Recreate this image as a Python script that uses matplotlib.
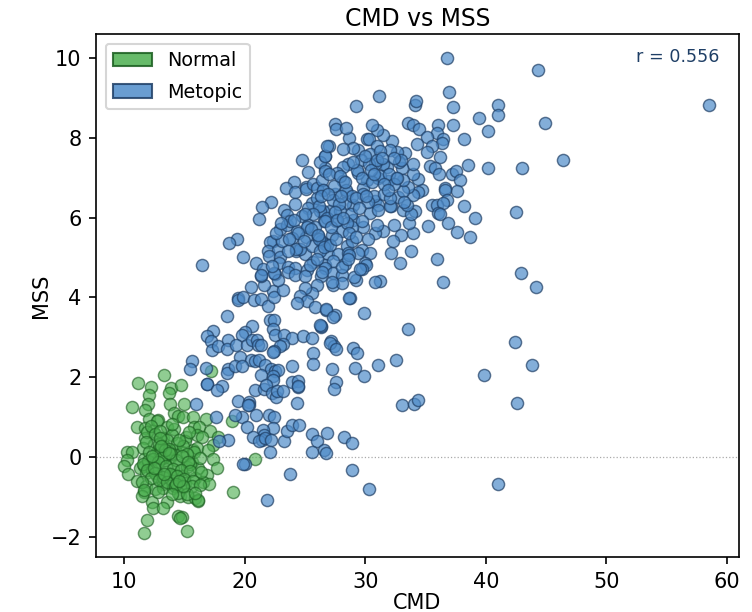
# CMD vs MSS scatter
import matplotlib
matplotlib.use("Agg")
import matplotlib.pyplot as plt
import matplotlib.patches as patches

# Normal group
normal_cmd = [
    13.34, 11.16, 12.21, 12.10, 13.9, 14.73, 13.7, 11.96, 13.79, 14.95, 10.66, 11.71, 14.12, 14.5, 14.92, 15.7,
    16.8, 18.98, 12.07, 12.85, 12.71, 11.05, 11.74, 12.43, 13.54, 14.15, 15.83, 16.25, 17.16, 15.11, 11.74, 13.26,
    13.95, 16.03, 16.44, 17.82, 17.41, 11.55, 12.49, 12.85, 13.32, 14.23, 14.84, 15.06, 15.7, 16.08, 16.94, 10.22,
    10.69, 12.57, 10.28, 10.03, 11.63, 13.4, 13.81, 15.61, 17.41, 17.74, 20.86, 11.33, 11.69, 12.57, 14.45, 15.25,
    16.16, 10.36, 11.85, 13.45, 14.23, 14.92, 15.89, 16.85, 11.08, 12.71, 13.26, 14.0, 15.06, 16.58, 17.08, 11.8,
    12.57, 13.26, 14.09, 11.69, 11.46, 14.64, 15.33, 15.89, 16.11, 19.07, 12.29, 13.57, 12.43, 13.26, 11.88, 14.5,
    14.78, 14.64, 11.63, 15.2, 17.19, 16.15, 11.9, 12.2, 12.6, 13.0, 13.6, 14.0, 14.4, 14.9, 15.4, 15.8, 11.8,
    12.1, 12.9, 13.2, 13.7, 14.6, 15.2, 15.5, 12.0, 12.4, 13.1, 13.9, 14.3, 14.8, 15.3, 16.3, 11.6, 12.3, 12.8,
    13.5, 14.1, 14.7, 15.5, 16.4, 11.9, 12.6, 13.2, 13.8, 14.4, 15.0, 15.7, 12.2, 12.9, 13.6, 14.2, 14.9, 15.6,
    16.3, 11.5, 12.5, 13.0, 13.4, 14.5, 15.2, 11.7, 12.3, 13.1, 13.7, 14.3, 14.9, 15.9, 12.8, 13.3, 14.0, 14.6,
]
normal_mss = [
    2.06, 1.85, 1.75, 1.56, 1.72, 1.80, 1.60, 1.33, 1.33, 1.33, 1.24, 1.18, 1.11, 1.03, 1.01, 1.01,
    0.95, 0.9, 0.96, 0.93, 0.89, 0.76, 0.72, 0.64, 0.76, 0.70, 0.74, 0.76, 0.64, 0.49, 0.47, 0.47,
    0.55, 0.55, 0.51, 0.51, 0.30, 0.22, 0.33, 0.18, 0.26, 0.18, 0.13, 0.39, 0.18, 0.22, 0.18, 0.13,
    0.13, 0.05, -0.08, -0.23, -0.06, -0.08, -0.03, -0.12, -0.06, -0.27, -0.05, -0.28, -0.24, -0.20, -0.20, -0.26,
    -0.27, -0.43, -0.41, -0.39, -0.45, -0.48, -0.54, -0.45, -0.60, -0.49, -0.68, -0.66, -0.66, -0.62, -0.69, -0.74,
    -0.80, -0.79, -0.79, -0.87, -0.98, -0.98, -1.01, -1.02, -1.10, -0.89, -1.12, -1.12, -1.29, -1.27, -1.59, -1.47,
    -1.50, -1.54, -1.91, -1.85, 2.14, -1.08, 0.62, 0.78, 0.58, 0.66, 0.42, 0.82, 0.36, 0.28, 0.62, 0.12, 0.38,
    0.12, 0.32, -0.02, 0.2, 0.42, 0.08, -0.18, -0.1, -0.05, -0.02, 0.06, -0.08, 0.02, -0.14, -0.04, -0.18, -0.32,
    -0.12, -0.22, -0.3, -0.33, -0.36, -0.38, -0.34, -0.4, -0.5, -0.44, -0.48, -0.56, -0.6, -0.52, -0.58, -0.62,
    -0.72, -0.76, -0.72, -0.7, -0.62, -0.28, 0.48, 0.18, -0.9, -0.92, -0.84, 0.02, 0.26, 0.1, -0.68, -0.74, -0.9,
    -0.88, -0.44, -0.92, -0.6, -0.86,
]

# Metopic group
metopic_cmd = [
    20.5, 19.42, 19.48, 19.89, 20.78, 21.36, 21.91, 22.32, 22.44, 23.2, 21.61, 21.36, 22.5, 22.8, 18.51, 22.1, 22.44,
    22.32, 20.58, 20.03, 19.75, 17.4, 16.85, 17.18, 17.27, 17.82, 18.65, 18.57, 19.28, 20.22, 20.58, 20.99, 21.14,
    21.36, 22.52, 23.29, 23.96, 24.87, 25.61, 26.33, 26.33, 27.16, 27.44, 23.2, 22.93, 22.44, 22.38, 25.64, 25.7,
    27.22, 29.01, 29.29, 29.15, 27.55, 27.44, 19.62, 20.53, 20.86, 21.22, 21.69, 15.66, 15.47, 16.77, 18.65, 18.51,
    19.2, 19.81, 22.19, 22.52, 22.8, 21.36, 22.38, 22.32, 23.9, 16.85, 16.87, 18.1, 17.74, 20.86, 21.61, 21.77,
    22.24, 22.6, 22.66, 23.2, 23.96, 24.4, 24.45, 24.4, 24.31, 15.97, 19.48, 20.39, 20.39, 20.31, 20.91, 19.75,
    19.2, 17.6, 22.05, 22.44, 20.17, 22.32, 21.55, 21.63, 20.67, 21.41, 21.22, 21.69, 22.19, 23.26, 23.54, 23.9,
    24.51, 25.61, 25.97, 26.86, 28.24, 28.87, 26.58, 26.72, 25.61, 22.1, 18.65, 17.9, 20.03, 19.9, 21.86,
    23.76, 28.9, 30.3, 41.0, 31.06, 32.55, 33.05, 34.05, 34.38, 33.55, 39.85, 42.42, 42.6, 43.83, 42.9, 44.2,
    36.45, 35.95, 29.9, 29.9, 27.1, 27.58, 28.74, 27.5, 26.75, 26.25,
    31.11, 29.21, 34.13, 34.21, 36.97, 37.25, 39.43, 40.2, 37.31, 36.0, 35.92, 33.52, 33.99, 34.49, 38.19, 35.15,
    36.48, 36.34, 35.51, 35.15, 34.32, 36.2, 38.5, 40.2, 35.37, 35.79, 36.15, 37.22, 37.5, 37.86, 37.58, 36.61,
    36.61, 36.75, 35.51, 35.98, 36.48, 36.06, 36.2, 38.19, 39.1, 36.89, 37.64, 38.69, 35.23, 33.77, 32.88, 32.11,
    33.93, 32.97, 32.28, 33.66, 33.16, 34.13, 33.77, 32.39, 31.5, 30.81, 33.49, 32.11, 34.68, 34.4, 33.93, 32.75,
    33.57, 33.16, 34.4, 33.99, 33.99, 33.08, 33.1, 32.55, 31.92, 31.09, 30.12, 29.43, 31.78, 31.5, 30.81, 32.19,
    33.3, 32.61, 32.05, 31.5, 30.95, 30.53, 30.12, 30.34, 30.95, 30.4, 31.22, 28.68, 29.43, 29.01, 28.13, 27.49,
    27.58, 28.38, 27.02, 26.66, 29.62, 28.6, 28.13, 26.66, 27.69, 28.18, 27.49, 28.46, 29.84, 26.53, 30.81, 31.09,
    32.05, 30.4, 29.01, 28.32, 27.08, 27.91, 26.53, 29.01, 29.84, 30.95, 27.58, 28.05, 27.22, 28.88, 26.66, 28.46,
    29.7, 30.4, 28.88, 26.94, 27.77, 28.6, 29.43, 29.98, 28.32, 26.66, 27.36,
    24.73, 25.23, 26.25, 26.67, 26.86, 24.12, 23.43, 24.18, 25.06, 25.09, 25.7, 25.97, 26.39, 26.67, 26.53, 22.16,
    21.47, 21.22, 24.18, 23.29, 23.49, 25.56, 25.97, 25.28, 26.25, 24.73, 26.58, 22.93, 23.54, 24.32, 23.9, 25.06,
    26.11, 25.28, 26.8, 26.31, 19.34, 18.73, 22.38, 22.1, 21.97, 22.8, 22.05, 24.23, 25.0, 25.56, 26.25, 25.64,
    19.89, 20.92, 16.44, 22.93, 22.88, 23.62, 24.18, 25.14, 26.67, 21.55, 21.36, 22.44, 23.57, 24.18, 25.0, 22.24,
    26.3, 27.35, 28.1, 29.2, 27.35, 25.97, 25.61, 25.0, 24.59, 25.2, 24.37, 25.84, 26.75, 27.3, 28.68,
    31.2, 30.8, 30.07, 29.7, 28.1, 27.25, 26.4, 28.65,
    36.78, 44.33, 41.0, 41.0, 44.9, 46.4, 43.0, 42.5, 58.5,
    27.0, 27.4, 27.9, 28.4, 28.9, 29.3, 29.8, 30.3, 30.7, 31.2, 31.6, 32.0, 32.4, 32.8, 33.2,
    26.2, 26.8, 27.3, 27.8, 28.3, 28.8, 29.2, 29.7, 30.2, 30.6, 31.1, 31.6, 32.1, 32.6, 33.0,
    25.8, 26.3, 26.9, 27.5, 28.0, 28.5, 29.0, 29.5, 30.0, 30.5, 31.0, 31.4, 31.9, 32.4,
    24.6, 25.2, 25.7, 26.2, 26.7, 27.2, 27.7, 28.2, 28.7, 29.2, 29.7, 30.2, 30.7,
    23.8, 24.4, 25.0, 25.5, 26.1, 26.6, 27.1, 27.6, 28.1, 28.6, 29.1, 29.6, 30.1,
    23.1, 23.7, 24.3, 24.9, 25.4, 26.0, 22.6, 23.0, 23.6, 24.1,
]
metopic_mss = [
    4.27, 3.98, 3.92, 4.01, 3.94, 3.96, 3.77, 4.15, 4.01, 4.19, 4.32, 4.54, 4.58, 4.44, 3.52, 3.44, 3.44,
    3.2, 3.29, 3.12, 3.06, 3.16, 3.04, 2.91, 2.69, 2.77, 2.92, 2.7, 2.81, 2.8, 2.94, 2.94, 2.8,
    2.81, 3.05, 3.06, 2.98, 3.04, 2.99, 3.25, 3.27, 2.9, 2.77, 2.84, 2.79, 2.66, 2.64, 2.6, 2.33,
    2.2, 2.73, 2.6, 2.24, 1.87, 1.7, 2.5, 2.42, 2.41, 2.42, 2.31, 2.41, 2.2, 2.24, 2.21, 2.1,
    2.27, 2.27, 2.21, 2.14, 2.18, 2.06, 2.02, 1.93, 2.27, 1.83, 1.83, 1.77, 1.67, 1.68, 1.7, 1.81,
    1.6, 1.51, 1.64, 1.64, 1.87, 1.89, 1.75, 1.77, 1.35, 1.32, 1.39, 1.37, 1.29, 1.3, 1.04, 1.01,
    1.05, 1.01, 1.05, 1.01, 0.76, 0.72, 0.68, 0.55, 0.51, 0.43, 0.39, 0.47, 0.43, 0.4, 0.64, 0.8,
    0.79, 0.57, 0.41, 0.61, 0.49, 0.34, 0.18, 0.09, 0.12, 0.12, 0.43, 0.41, -0.18, -0.18, -1.08,
    -0.43, -0.33, -0.8, -0.68, 2.31, 2.43, 1.3, 1.33, 1.43, 3.21, 2.06, 2.89, 1.36, 2.31, 4.62, 4.27,
    4.39, 4.97, 3.61, 2.03, 2.86, 2.71, 3.99, 3.56, 3.69, 3.31,
    9.04, 8.79, 8.83, 8.91, 9.14, 8.77, 8.5, 8.16, 8.33, 8.33, 8.12, 8.37, 8.33, 8.23, 7.97, 8.02,
    7.96, 7.87, 7.79, 7.64, 7.85, 7.52, 7.31, 7.24, 7.29, 7.24, 7.09, 7.1, 7.16, 6.93, 6.66, 6.73,
    6.68, 6.45, 6.31, 6.31, 6.37, 6.11, 6.1, 6.28, 5.98, 5.85, 5.64, 5.51, 5.78, 5.17, 4.86, 5.11,
    5.61, 5.55, 5.42, 5.85, 6.18, 6.16, 6.1, 5.8, 5.65, 5.61, 6.32, 6.3, 6.7, 6.63, 6.57, 6.51,
    6.77, 6.66, 6.97, 7.08, 7.33, 7.23, 6.95, 6.99, 6.91, 6.99, 6.93, 7.12, 7.27, 7.33, 7.33, 7.93,
    7.62, 7.65, 7.68, 8.08, 8.19, 8.33, 7.98, 7.96, 7.79, 7.58, 7.66, 8.0, 7.7, 7.75, 7.72, 8.35,
    8.23, 8.24, 7.79, 7.55, 7.43, 7.33, 7.27, 7.24, 7.12, 6.91, 6.6, 6.62, 6.74, 6.7, 6.42, 6.32,
    6.28, 6.11, 6.32, 6.37, 6.16, 6.16, 6.16, 5.95, 5.76, 5.82, 5.91, 5.65, 5.57, 5.76, 5.34, 5.28,
    5.19, 5.11, 5.4, 5.09, 5.09, 5.11, 5.11, 4.86, 4.84, 4.82, 4.9,
    7.45, 7.14, 7.39, 7.55, 7.79, 6.89, 6.74, 6.64, 6.77, 6.72, 6.83, 6.74, 6.95, 7.16, 6.7, 6.4,
    6.26, 5.97, 6.35, 6.2, 6.07, 6.37, 6.49, 6.24, 6.16, 6.05, 5.91, 5.7, 5.82, 5.65, 5.49, 5.51,
    5.53, 5.82, 5.32, 5.4, 5.47, 5.35, 5.4, 5.38, 5.15, 5.19, 5.03, 5.16, 5.09, 5.28, 5.15, 4.89,
    5.0, 4.86, 4.8, 5.01, 4.86, 4.77, 4.73, 4.69, 4.73, 4.71, 4.57, 4.61, 4.63, 4.57, 4.53, 4.79,
    4.53, 4.61, 4.57, 4.44, 4.32, 4.32, 4.12, 4.23, 4.02, 3.9, 3.86, 3.76, 3.71, 3.5, 3.98,
    4.42, 4.39, 4.82, 4.7, 4.37, 4.39, 4.64, 5.07,
    10.0, 9.71, 8.83, 8.56, 8.36, 7.43, 7.25, 6.15, 8.83,
    7.1, 6.8, 7.05, 6.7, 6.55, 7.2, 6.6, 7.35, 6.55, 7.05, 6.6, 7.1, 6.85, 7.4, 6.4,
    6.3, 6.0, 6.45, 6.35, 6.9, 6.1, 6.5, 7.0, 6.4, 6.9, 6.2, 6.85, 6.5, 7.0, 7.45,
    5.75, 6.55, 6.6, 6.15, 6.55, 5.85, 7.4, 6.25, 7.55, 7.2, 7.45, 7.5, 6.7, 7.5,
    5.2, 5.75, 6.1, 5.45, 5.9, 5.75, 5.95, 6.0, 5.6, 5.5, 5.9, 5.45, 7.1,
    5.9, 5.6, 6.1, 5.7, 5.55, 5.25, 5.3, 5.45, 4.75, 4.95, 4.5, 4.7, 6.55,
    5.4, 5.45, 5.2, 5.4, 4.8, 4.95, 5.6, 5.85, 5.15, 5.95,
]

# Styles
normal_color = "#4caf50"
normal_edge = "#1b5e20"
metopic_color = "#4f8cc9"
metopic_edge = "#1f3f66"
r_text = "r = 0.556"


def draw_chart():
    """Draw the scatter and save it as out.png."""
    fig = plt.figure(figsize=(5.02, 4.08), dpi=150)
    ax = fig.add_axes([96 / 753, 1 - 557 / 612, (739 - 96) / 753, (557 - 34) / 612])

    ax.axhline(0, color="#aaaaaa", linewidth=0.6, linestyle=":", zorder=1)
    n = min(len(normal_cmd), len(normal_mss))
    m = min(len(metopic_cmd), len(metopic_mss))
    ax.scatter(normal_cmd[:n], normal_mss[:n], s=34, color=normal_color, edgecolor=normal_edge,
               linewidth=0.7, alpha=0.62, zorder=2)
    ax.scatter(metopic_cmd[:m], metopic_mss[:m], s=34, color=metopic_color, edgecolor=metopic_edge,
               linewidth=0.7, alpha=0.7, zorder=3)

    ax.set_xlim(7.68, 61.0)
    ax.set_ylim(-2.51, 10.6)
    ax.set_xticks([10, 20, 30, 40, 50, 60])
    ax.set_yticks([-2, 0, 2, 4, 6, 8, 10])
    ax.tick_params(labelsize=10, width=0.8, length=3.5)
    ax.set_xlabel("CMD", fontsize=10, labelpad=0.5)
    ax.set_ylabel("MSS", fontsize=10, labelpad=0)
    ax.set_title("CMD vs MSS", fontsize=11.3, pad=4)

    ax.text(0.969, 0.956, r_text, transform=ax.transAxes, ha="right", va="center",
            fontsize=8.4, color="#1f3f66")

    handles = [
        patches.Patch(facecolor=normal_color, edgecolor=normal_edge, alpha=0.85, label="Normal"),
        patches.Patch(facecolor=metopic_color, edgecolor=metopic_edge, alpha=0.85, label="Metopic"),
    ]
    ax.legend(handles=handles, loc="upper left", fontsize=9.2, labelspacing=0.65, framealpha=0.8)

    fig.savefig("out.png", dpi=150)
    plt.close(fig)


if __name__ == "__main__":
    draw_chart()
